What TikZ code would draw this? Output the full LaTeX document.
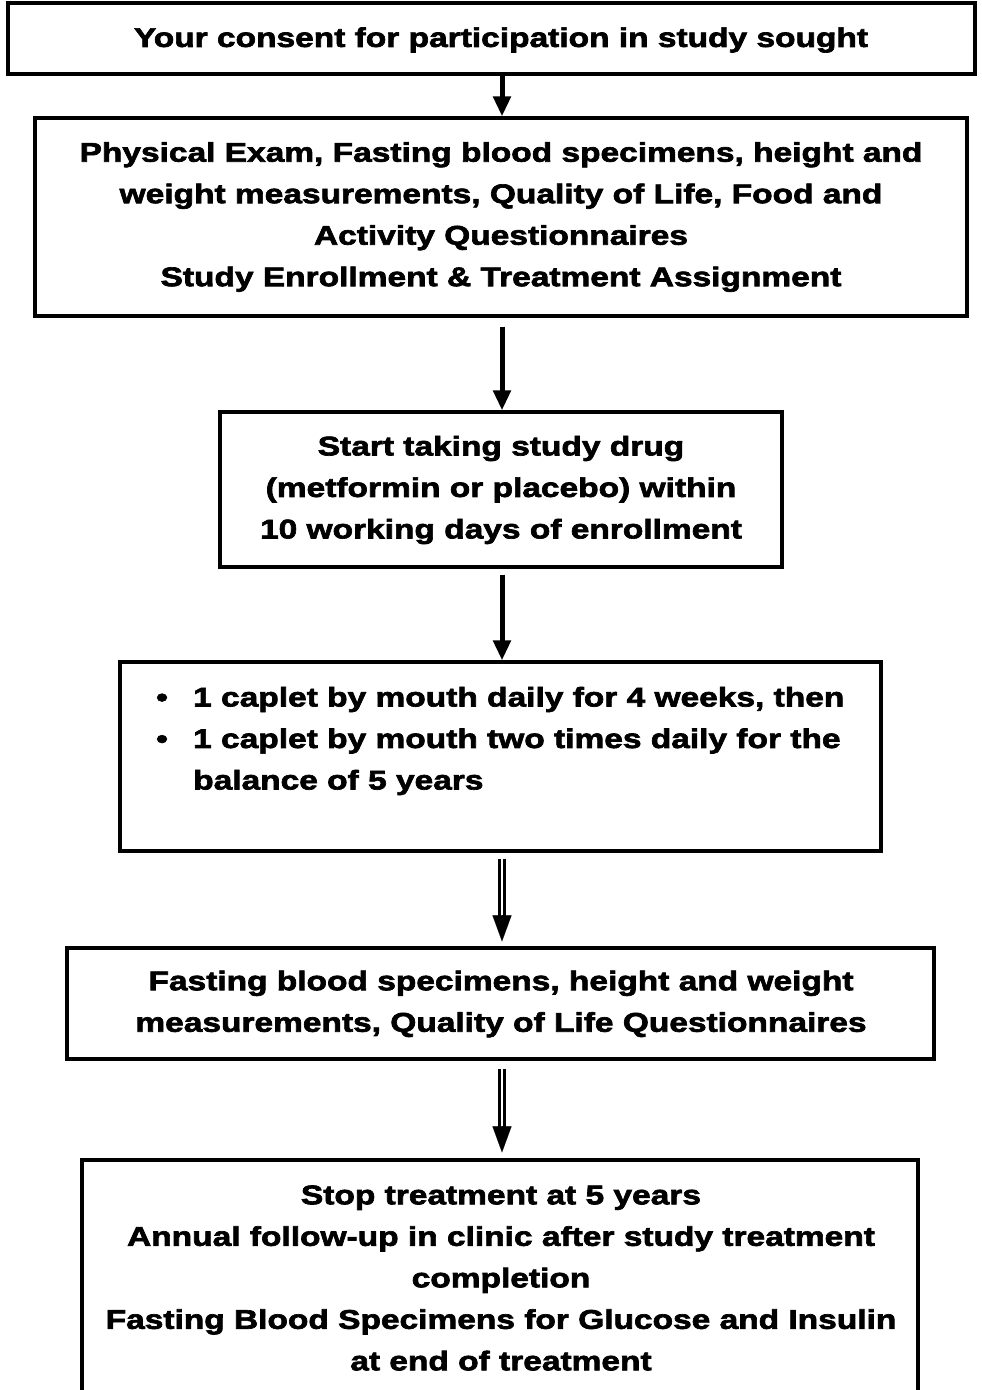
\documentclass[tikz,border=0pt]{standalone}
\usepackage{fontspec}
\setmainfont{Liberation Sans}[BoldFeatures={FakeStretch=1.24,FakeBold=2.5}]
\usetikzlibrary{arrows.meta,calc}
\begin{document}
\begin{tikzpicture}[x=1pt,y=-1pt,
  box/.style={draw=black,line width=3.2pt,inner sep=0pt,anchor=center},
  txt/.style={align=center,font=\fontsize{27}{41.5}\selectfont\bfseries,inner sep=0pt},
  solidarrow/.style={line width=5pt,-{Triangle[width=17pt,length=20pt]}},
  dblline/.style={double=white,double distance=2.5pt,line width=2.3pt},
  dbltip/.style={line width=0.1pt,draw=black,fill=black,-{Triangle[width=19pt,length=26pt]}}]
\useasboundingbox (0,0) rectangle (982,1390);
\fill[white] (0,0) rectangle (982,1390);
% boxes
\node[box,minimum width=967pt,minimum height=71pt] (b1) at (491.5,38.5) {};
\node[txt] (t1) at (501,40) {Your consent for participation in study sought};
\node[box,minimum width=932pt,minimum height=198pt] (b2) at (501,217) {};
\node[txt] (t2) at (501,217) {Physical Exam, Fasting blood specimens, height and\\weight measurements, Quality of Life, Food and\\Activity Questionnaires\\Study Enrollment \& Treatment Assignment};
\node[box,minimum width=562pt,minimum height=155pt] (b3) at (501,489.5) {};
\node[txt] (t3) at (501,490) {Start taking study drug\\(metformin or placebo) within\\10 working days of enrollment};
\node[box,minimum width=761pt,minimum height=189pt] (b4) at (500.5,756.5) {};
\node[txt,align=left,anchor=west] (t4) at (156,741) {\makebox[37pt][l]{\textbullet}1 caplet by mouth daily for 4 weeks, then\\\makebox[37pt][l]{\textbullet}1 caplet by mouth two times daily for the\\\hspace*{37pt}balance of 5 years};
\node[box,minimum width=867pt,minimum height=111pt] (b5) at (500.5,1003.5) {};
\node[txt] (t5) at (501,1004) {Fasting blood specimens, height and weight\\measurements, Quality of Life Questionnaires};
\node[box,minimum width=836pt,minimum height=280pt] (b6) at (500,1300) {};
\node[txt] (t6) at (501,1278) {Stop treatment at 5 years\\Annual follow-up in clinic after study treatment\\completion\\Fasting Blood Specimens for Glucose and Insulin\\at end of treatment};
% arrows
\coordinate (ax) at (502,0);
\draw[solidarrow] (b1.south -| ax) -- (b2.north -| ax);
\draw[solidarrow,shorten <=9pt] (b2.south -| ax) -- (b3.north -| ax);
\draw[solidarrow,shorten <=6pt] (b3.south -| ax) -- (b4.north -| ax);
\draw[dblline,shorten <=6pt,shorten >=30pt] (b4.south -| ax) -- (b5.north -| ax);
\draw[dbltip,shorten >=5pt] ($(b5.north -| ax)+(0,-30)$) -- (b5.north -| ax);
\draw[dblline,shorten <=8pt,shorten >=30pt] (b5.south -| ax) -- (b6.north -| ax);
\draw[dbltip,shorten >=6pt] ($(b6.north -| ax)+(0,-30)$) -- (b6.north -| ax);
\end{tikzpicture}
\end{document}
